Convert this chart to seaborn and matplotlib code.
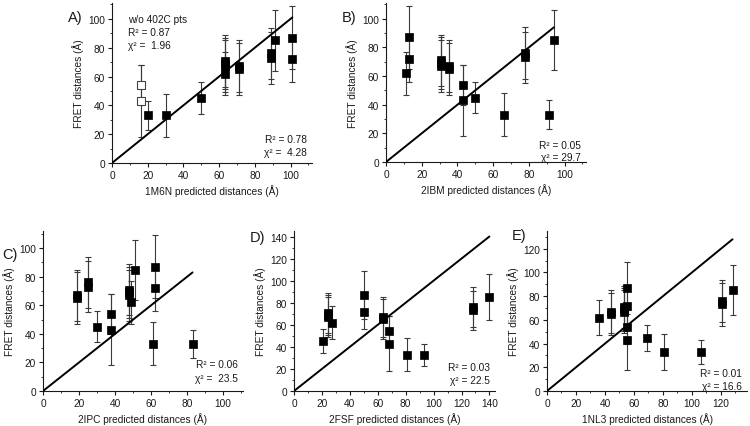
import numpy as np
import pandas as pd
import matplotlib
matplotlib.use("Agg")
import matplotlib.pyplot as plt
from matplotlib.ticker import MultipleLocator
import seaborn as sns

# measured FRET distances (same 16 pairs in every panel) and their errors
fret_dist = [62, 72, 87, 67, 69, 71, 65, 67, 54, 43, 45, 33, 33, 73, 76, 85]
fret_err = [15, 16, 22, 18, 18, 18, 18, 18, 14, 25, 11, 15, 10, 18, 18, 21]

# predicted distances from each structure
pred_1m6n = [63, 101, 101, 63, 63, 63, 71, 71, 16, 16, 50, 30, 20, 89, 89, 91]
pred_2ibm = [11, 13, 13, 31, 31, 31, 35, 35, 43, 43, 50, 66, 91, 78, 78, 94]
pred_2ipc = [49, 62, 62, 48, 48, 48, 19, 19, 38, 38, 30, 61, 83, 25, 25, 51]
pred_2fsf = [27, 50, 50, 24, 24, 24, 64, 64, 68, 68, 21, 81, 93, 128, 128, 140]
pred_1nl3 = [36, 55.5, 55.5, 53, 53, 53, 44, 44, 55, 55, 69, 81, 106, 121, 121, 128]

# the two 402C points are drawn open in panel A
open_pts_1m6n = [8, 9]

panel_names = ["1M6N", "2IBM", "2IPC", "2FSF", "1NL3"]
panel_letters = ["A)", "B)", "C)", "D)", "E)"]
r2_vals = ["0.78", "0.05", "0.06", "0.03", "0.01"]
chi2_vals = [" 4.28", "29.7", " 23.5", "22.5", "16.6"]

sns.set_style("ticks")
plt.rcParams['font.family'] = ['Liberation Sans', 'DejaVu Sans']
plt.rcParams['xtick.labelsize'] = 7.3
plt.rcParams['ytick.labelsize'] = 7.3
plt.rcParams['axes.labelsize'] = 7.3
for key in ['text.color', 'axes.labelcolor', 'xtick.color', 'ytick.color', 'axes.edgecolor']:
    plt.rcParams[key] = '#1a1a1a'

W, H = 750, 427
fig = plt.figure(figsize=(7.5, 4.27), dpi=100)


def px_axes(left, right, top, bottom):
    return fig.add_axes([left / W, 1 - bottom / H, (right - left) / W, (bottom - top) / H])


# (left, right, top, bottom) in pixels, axis limits, tick step
layout = [
    ((112, 312, 4, 164), 112, 111, 100),
    ((386, 586, 4, 163), 112, 111, 100),
    ((43, 243, 232, 392), 111, 112, 100),
    ((294, 495, 232, 392), 144, 145, 140),
    ((547, 747, 232, 392), 138, 135, 120),
]
preds = [pred_1m6n, pred_2ibm, pred_2ipc, pred_2fsf, pred_1nl3]
label_pos = [(0.09, 0.975), (0.456, 0.975), (0.003, 0.42), (0.333, 0.46), (0.682, 0.463)]
stat_y = [(0.15, 0.07), (0.11, 0.03), (0.17, 0.08), (0.15, 0.066), (0.115, 0.03)]

for i, name in enumerate(panel_names):
    box, xmax, ymax, tmax = layout[i]
    ax = px_axes(*box)
    df = pd.DataFrame({"pred": preds[i], "fret": fret_dist, "err": fret_err})
    df["open"] = False
    if i == 0:
        df.loc[open_pts_1m6n, "open"] = True

    ax.errorbar(df["pred"], df["fret"], yerr=df["err"], fmt="none",
                ecolor="#3a3a3a", elinewidth=0.8, capsize=2, capthick=0.8, zorder=2)
    ax.plot([0, df["pred"].max()], [0, df["pred"].max()], color="black", lw=1.4, zorder=3)
    sns.scatterplot(data=df[~df["open"]], x="pred", y="fret", marker="s", s=40,
                    color="black", edgecolor="black", linewidth=0.5, ax=ax, zorder=4)
    if df["open"].any():
        sns.scatterplot(data=df[df["open"]], x="pred", y="fret", marker="s", s=40,
                        facecolor="white", edgecolor="#444444", linewidth=0.8, ax=ax, zorder=4)

    ax.set_xlim(0, xmax)
    ax.set_ylim(0, ymax)
    ax.set_xticks(np.arange(0, tmax + 1, 20))
    ax.set_yticks(np.arange(0, tmax + 1, 20))
    ax.xaxis.set_minor_locator(MultipleLocator(10))
    ax.yaxis.set_minor_locator(MultipleLocator(10))
    ax.tick_params(which="major", length=3, width=0.8, pad=2)
    ax.tick_params(which="minor", length=1.5, width=0.6)
    sns.despine(ax=ax)
    for sp in ["left", "bottom"]:
        ax.spines[sp].set_linewidth(0.8)
    ax.set_xlabel(name + " predicted distances (Å)", labelpad=3)
    ax.set_ylabel("FRET distances (Å)", labelpad=3)

    ax.text(0.975, stat_y[i][0], "R² = " + r2_vals[i], transform=ax.transAxes,
            ha="right", va="center", fontsize=7.3)
    ax.text(0.975, stat_y[i][1], "χ² = " + chi2_vals[i], transform=ax.transAxes,
            ha="right", va="center", fontsize=7.3)
    if i == 0:
        ax.text(0.08, 0.9, "w/o 402C pts", transform=ax.transAxes, ha="left", va="center", fontsize=7.3)
        ax.text(0.08, 0.82, "R² = 0.87", transform=ax.transAxes, ha="left", va="center", fontsize=7.3)
        ax.text(0.08, 0.74, "χ² =  1.96", transform=ax.transAxes, ha="left", va="center", fontsize=7.3)

    fig.text(label_pos[i][0], label_pos[i][1], panel_letters[i], ha="left", va="top", fontsize=10.5)

fig.savefig("out.png", dpi=100)
